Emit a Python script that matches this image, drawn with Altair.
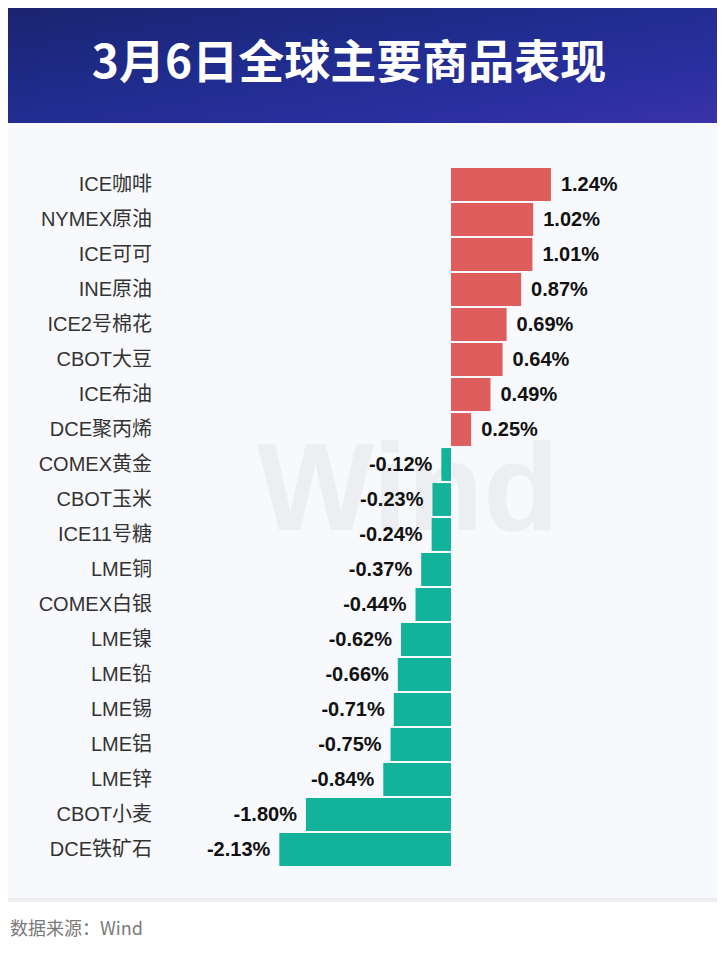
import altair as alt
import pandas as pd

names = ["ICE咖啡", "NYMEX原油", "ICE可可", "INE原油", "ICE2号棉花", "CBOT大豆", "ICE布油",
         "DCE聚丙烯", "COMEX黄金", "CBOT玉米", "ICE11号糖", "LME铜", "COMEX白银", "LME镍",
         "LME铅", "LME锡", "LME铝", "LME锌", "CBOT小麦", "DCE铁矿石"]
values = [1.24, 1.02, 1.01, 0.87, 0.69, 0.64, 0.49, 0.25, -0.12, -0.23, -0.24, -0.37,
          -0.44, -0.62, -0.66, -0.71, -0.75, -0.84, -1.80, -2.13]
title_text = "3月6日全球主要商品表现"
source_text = "数据来源：Wind"

W, H = 709, 938
df = pd.DataFrame({"name": names, "v": values})
dummy = pd.DataFrame({"a": [0]})

yscale = alt.Scale(domain=names, range=[159, 859], paddingInner=0.06, paddingOuter=0.03)
xscale = alt.Scale(domain=[-3, 2], range=[201.2, 604.2])
Y = alt.Y("name:N", sort=names, scale=yscale, axis=None)
X = alt.X("v:Q", scale=xscale, axis=None)

latin = "Liberation Sans, Arial, Noto Sans CJK SC"
labexpr = "(datum.v < 0 ? '-' : '') + format(abs(datum.v), '.2f') + '%'"

banner = alt.Chart(dummy).mark_rect(
    color=alt.Gradient(
        gradient="linear",
        stops=[alt.GradientStop(color="#1a2470", offset=0),
               alt.GradientStop(color="#1f2c8c", offset=0.4),
               alt.GradientStop(color="#2a2f9f", offset=0.75),
               alt.GradientStop(color="#3a33a8", offset=1)],
        x1=0, x2=1, y1=0, y2=1)
).encode(x=alt.value(0), x2=alt.value(W), y=alt.value(0), y2=alt.value(115))

title = alt.Chart(dummy).mark_text(
    text=title_text, font="Noto Sans CJK SC", fontWeight="bold", fontSize=46,
    color="white", align="center", baseline="middle"
).encode(x=alt.value(341), y=alt.value(56))

shadow = alt.Chart(dummy).mark_rect(color="#eceef2").encode(
    x=alt.value(0), x2=alt.value(W), y=alt.value(115), y2=alt.value(894))
panel = alt.Chart(dummy).mark_rect(color="#f8f9fc").encode(
    x=alt.value(0), x2=alt.value(W), y=alt.value(115), y2=alt.value(890))

watermark = alt.Chart(dummy).mark_text(
    text="Wind", font="Liberation Sans, Arial", fontWeight="bold", fontSize=124,
    color="#edeef1", align="center", baseline="middle"
).encode(x=alt.value(400), y=alt.value(485))

bars = alt.Chart(df).mark_bar().encode(
    y=Y, x=X,
    color=alt.condition("datum.v >= 0", alt.value("#e05d5e"), alt.value("#13b29b"))
)

catlabels = alt.Chart(df).mark_text(
    align="right", baseline="middle", font=latin, fontSize=20, color="#333333"
).encode(y=Y, x=alt.value(144), text="name:N")

pos = alt.Chart(df).transform_filter("datum.v >= 0").transform_calculate(
    lab=labexpr
).mark_text(align="left", baseline="middle", dx=10, font=latin, fontSize=20,
            fontWeight="bold", color="#111111").encode(y=Y, x=X, text="lab:N")

neg = alt.Chart(df).transform_filter("datum.v < 0").transform_calculate(
    lab=labexpr
).mark_text(align="right", baseline="middle", dx=-9, font=latin, fontSize=20,
            fontWeight="bold", color="#111111").encode(y=Y, x=X, text="lab:N")

source = alt.Chart(dummy).mark_text(
    text=source_text, font="Noto Sans CJK SC", fontSize=18, color="#7a7a7a",
    align="left", baseline="middle"
).encode(x=alt.value(2), y=alt.value(922))

chart = alt.layer(banner, title, shadow, panel, watermark, bars, catlabels, pos, neg, source).properties(
    width=W, height=H, padding=0, autosize=alt.AutoSizeParams(type="none"), background="white"
).configure_view(strokeWidth=0)

chart.save("out.html", embed_options={"renderer": "svg", "actions": False})
